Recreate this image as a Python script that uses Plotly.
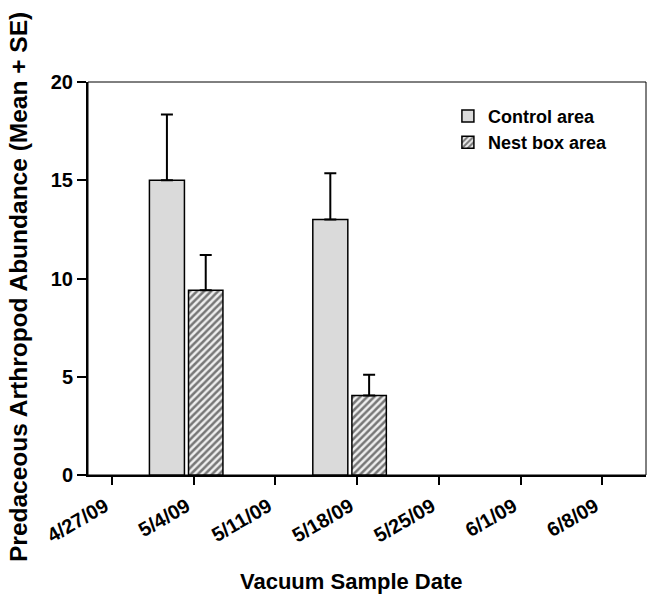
import plotly.graph_objects as go

# Data
dates = ["2009-05-04", "2009-05-18"]
control_mean = [15.0, 13.0]
control_se = [3.35, 2.35]
nest_mean = [9.4, 4.05]
nest_se = [1.8, 1.05]
tick_dates = ["2009-04-27", "2009-05-04", "2009-05-11", "2009-05-18",
              "2009-05-25", "2009-06-01", "2009-06-08"]
tick_labels = ["4/27/09", "5/4/09", "5/11/09", "5/18/09", "5/25/09", "6/1/09", "6/8/09"]
y_title = "Predaceous Arthropod Abundance (Mean + SE)"
x_title = "Vacuum Sample Date"

DAY = 86400000
FONT = "Arial, Liberation Sans, sans-serif"
L, T, W, H = 88, 82, 558, 393

fig = go.Figure()
fig.add_trace(go.Bar(
    x=dates, y=control_mean, name="Control area",
    width=[3.0 * DAY] * 2, offset=[-3.8 * DAY] * 2,
    marker=dict(color="#dadada", line=dict(color="black", width=1.5)),
    error_y=dict(type="data", array=control_se, arrayminus=[0, 0], symmetric=False,
                 color="black", thickness=2, width=6),
))
fig.add_trace(go.Bar(
    x=dates, y=nest_mean, name="Nest box area",
    width=[2.95 * DAY] * 2, offset=[-0.45 * DAY] * 2,
    marker=dict(color="#eeeeee", line=dict(color="black", width=1.5),
                pattern=dict(shape="/", fgcolor="black", bgcolor="#eeeeee",
                             size=5, solidity=0.5)),
    error_y=dict(type="data", array=nest_se, arrayminus=[0, 0], symmetric=False,
                 color="black", thickness=2, width=6),
))

fig.update_layout(
    width=649, height=596,
    margin=dict(l=L, r=3, t=T, b=121),
    paper_bgcolor="white", plot_bgcolor="white",
    font=dict(family=FONT, color="black"),
    showlegend=True,
    legend=dict(x=0.645, y=0.96, xanchor="left", yanchor="top",
                bgcolor="rgba(0,0,0,0)", font=dict(size=18, family=FONT, weight="bold"),
                tracegroupgap=0),
    barmode="overlay",
    xaxis=dict(
        type="date", range=["2009-04-24 22:30", "2009-06-11 18:00"],
        tickvals=tick_dates, ticktext=tick_labels, tickangle=-30,
        tickfont=dict(size=20, family=FONT, weight="bold"),
        ticks="outside", ticklen=8, tickwidth=1.5, tickcolor="black",
        ticklabelshift=-7, ticklabelstandoff=2,
        showline=True, linecolor="black", linewidth=2,
        showgrid=False, zeroline=False,
    ),
    yaxis=dict(
        range=[0, 20], tickvals=[0, 5, 10, 15, 20],
        tickfont=dict(size=20, family=FONT, weight="bold"),
        ticks="outside", ticklen=9, tickwidth=2, tickcolor="black",
        showline=True, linecolor="black", linewidth=2,
        showgrid=False, zeroline=False,
    ),
    shapes=[dict(type="rect", xref="paper", yref="paper", x0=0, y0=0, x1=1, y1=1,
                 line=dict(color="black", width=1), layer="below")],
    annotations=[
        dict(text=x_title, xref="paper", yref="paper",
             x=(351 - L) / W, y=-(581 - (T + H)) / H, xanchor="center", yanchor="middle",
             showarrow=False, font=dict(size=22, family=FONT, weight="bold")),
        dict(text=y_title, xref="paper", yref="paper", textangle=-90,
             x=(18 - L) / W, y=((T + H) - 287) / H, xanchor="center", yanchor="middle",
             showarrow=False, font=dict(size=24.5, family=FONT, weight="bold")),
    ],
)

fig.write_html("out.html")
